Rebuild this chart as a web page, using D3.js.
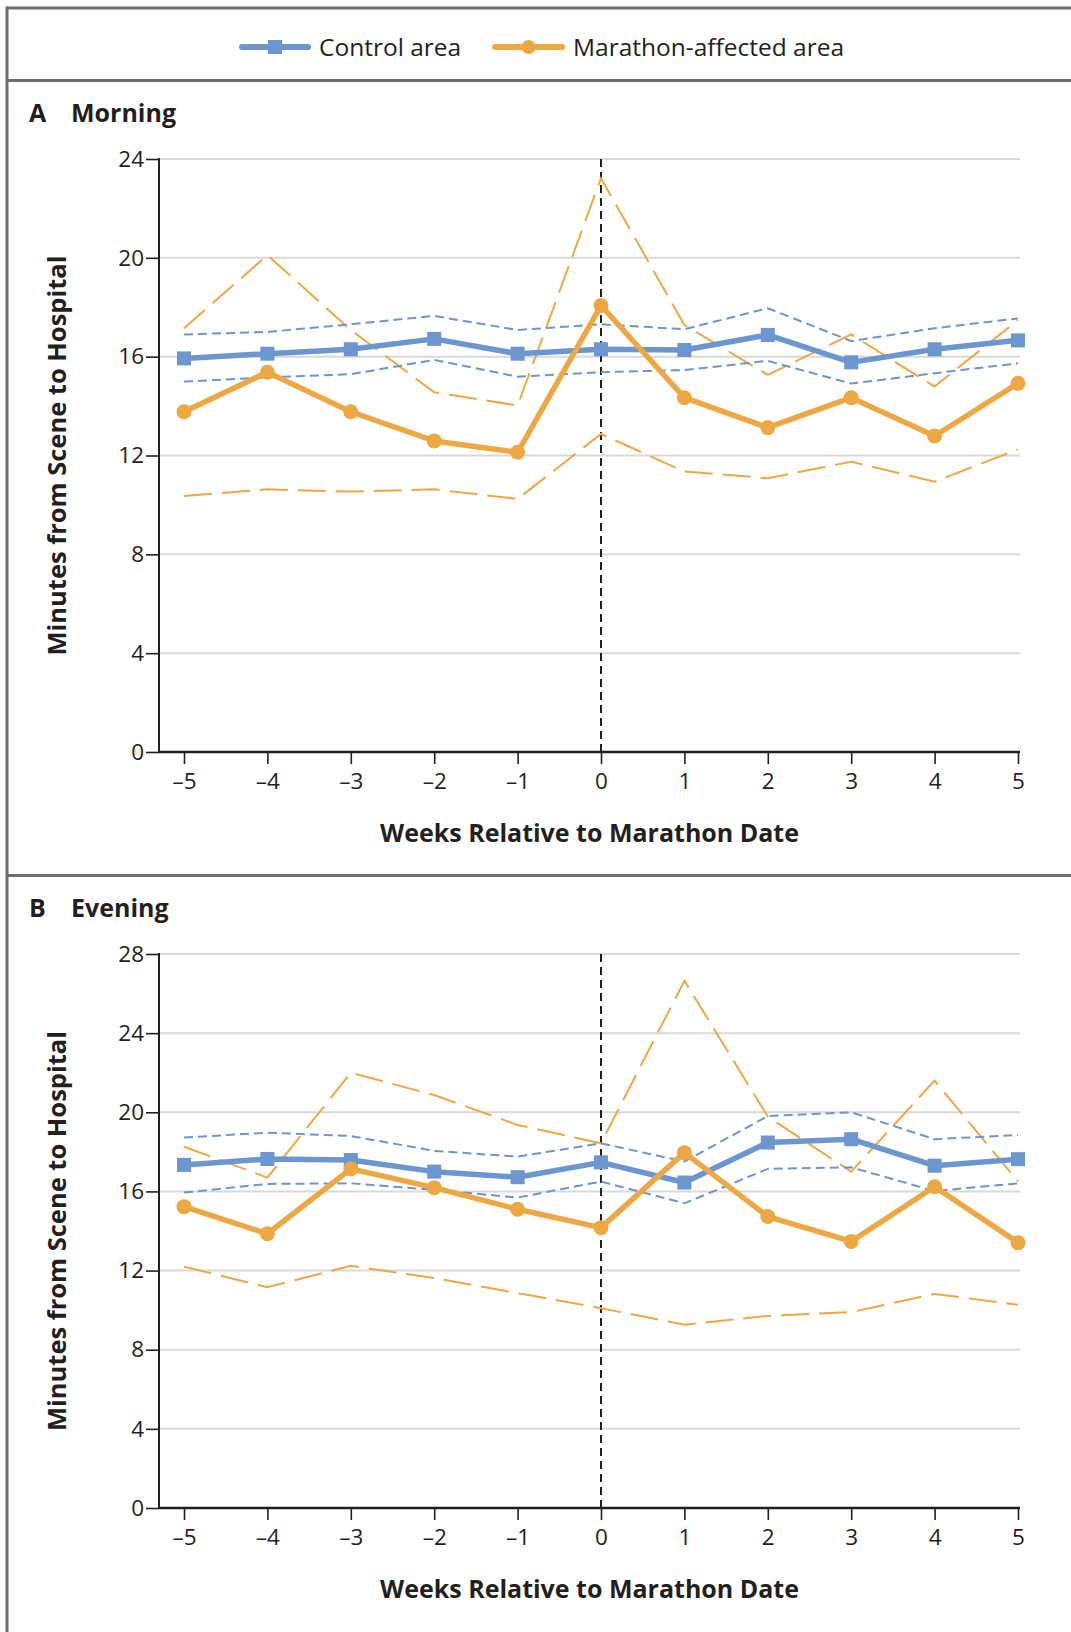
<!DOCTYPE html>
<html>
<head>
<meta charset="utf-8">
<script src="https://cdn.jsdelivr.net/npm/d3@7"></script>
<style>
  html, body { margin: 0; padding: 0; background: #fff; }
  svg { display: block; font-family: "Open Sans", "Noto Sans", sans-serif; }
</style>
</head>
<body>
<svg id="chart" width="1071" height="1632"></svg>
<script>
// ---------------- DATA ----------------
const weeks = [-5, -4, -3, -2, -1, 0, 1, 2, 3, 4, 5];
const weekLabels = ["–5", "–4", "–3", "–2", "–1", "0", "1", "2", "3", "4", "5"];

// Panel A: Morning
const morningTicks = [0, 4, 8, 12, 16, 20, 24];
const morningControl      = [15.93, 16.12, 16.30, 16.72, 16.12, 16.30, 16.27, 16.88, 15.77, 16.30, 16.66];
const morningControlHi    = [16.90, 17.00, 17.31, 17.65, 17.08, 17.31, 17.11, 17.96, 16.63, 17.15, 17.55];
const morningControlLo    = [14.99, 15.16, 15.29, 15.87, 15.19, 15.37, 15.46, 15.83, 14.91, 15.33, 15.73];
const morningMarathon     = [13.77, 15.37, 13.77, 12.59, 12.13, 18.07, 14.34, 13.13, 14.34, 12.79, 14.92];
const morningMarathonHi   = [17.15, 20.11, 17.08, 14.56, 14.02, 23.22, 17.28, 15.26, 16.90, 14.79, 17.48];
const morningMarathonLo   = [10.36, 10.63, 10.54, 10.63, 10.24, 12.87, 11.35, 11.08, 11.75, 10.94, 12.25];

// Panel B: Evening
const eveningTicks = [0, 4, 8, 12, 16, 20, 24, 28];
const eveningControl      = [17.34, 17.64, 17.59, 17.00, 16.72, 17.47, 16.45, 18.47, 18.64, 17.30, 17.63];
const eveningControlHi    = [18.72, 18.97, 18.80, 18.05, 17.76, 18.43, 17.51, 19.81, 20.00, 18.64, 18.85];
const eveningControlLo    = [15.94, 16.38, 16.41, 16.08, 15.69, 16.50, 15.40, 17.14, 17.22, 16.02, 16.41];
const eveningMarathon     = [15.23, 13.86, 17.14, 16.19, 15.10, 14.17, 17.96, 14.73, 13.47, 16.24, 13.41];
const eveningMarathonHi   = [18.26, 16.70, 22.00, 20.87, 19.36, 18.43, 26.65, 19.78, 17.00, 21.60, 16.50];
const eveningMarathonLo   = [12.20, 11.16, 12.24, 11.62, 10.86, 10.10, 9.26, 9.71, 9.90, 10.82, 10.27];

const legendLabels = ["Control area", "Marathon-affected area"];

// ---------------- STYLE ----------------
const BLUE = "#6b96cf";
const ORANGE = "#eda843";
const FRAME = "#6e6e6e";
const GRID = "#d9d9d9";
const INK = "#231f20";

const svg = d3.select("#chart");

// Frame
const frame = svg.append("g");
frame.append("line").attr("x1", 7).attr("x2", 1071).attr("y1", 8).attr("y2", 8)
  .attr("stroke", FRAME).attr("stroke-width", 3);
frame.append("line").attr("x1", 7).attr("x2", 7).attr("y1", 6.5).attr("y2", 1632)
  .attr("stroke", FRAME).attr("stroke-width", 3);
frame.append("line").attr("x1", 7).attr("x2", 1071).attr("y1", 80.5).attr("y2", 80.5)
  .attr("stroke", FRAME).attr("stroke-width", 3);
frame.append("line").attr("x1", 7).attr("x2", 1071).attr("y1", 875.5).attr("y2", 875.5)
  .attr("stroke", FRAME).attr("stroke-width", 3);

// Legend
const legend = svg.append("g");
const legItems = [
  { label: legendLabels[0], color: BLUE, shape: "square", x1: 242, x2: 308, tx: 319 },
  { label: legendLabels[1], color: ORANGE, shape: "circle", x1: 495, x2: 562, tx: 573 }
];
legItems.forEach(it => {
  const ly = 47;
  legend.append("line").attr("x1", it.x1).attr("x2", it.x2).attr("y1", ly).attr("y2", ly)
    .attr("stroke", it.color).attr("stroke-width", 6).attr("stroke-linecap", "round");
  const cx = (it.x1 + it.x2) / 2;
  if (it.shape === "square") {
    legend.append("rect").attr("x", cx - 7).attr("y", ly - 7).attr("width", 14).attr("height", 14)
      .attr("fill", it.color);
  } else {
    legend.append("circle").attr("cx", cx).attr("cy", ly).attr("r", 7).attr("fill", it.color);
  }
  legend.append("text").attr("x", it.tx).attr("y", ly).attr("dy", "0.35em")
    .attr("font-size", 24.5).attr("fill", INK).text(it.label);
});

function drawPanel(cfg) {
  const g = svg.append("g");
  const x = d3.scaleLinear().domain([-5, 5]).range([184, 1018]);
  const y = d3.scaleLinear().domain([0, cfg.yMax]).range([cfg.y0, cfg.yTop]);
  const xLeft = 159, xRight = 1020;

  // Title
  const title = g.append("text").attr("x", 29).attr("y", cfg.titleY)
    .attr("font-size", 25).attr("font-weight", 700).attr("fill", INK);
  title.append("tspan").text(cfg.letter);
  title.append("tspan").attr("x", 71).text(cfg.title);

  // Gridlines
  g.append("g").selectAll("line").data(cfg.ticks.filter(t => t > 0)).join("line")
    .attr("x1", xLeft).attr("x2", xRight)
    .attr("y1", d => y(d)).attr("y2", d => y(d))
    .attr("stroke", GRID).attr("stroke-width", 2);

  // Y axis
  const yAxis = d3.axisLeft(y).tickValues(cfg.ticks).tickSize(13).tickPadding(2).tickFormat(d3.format("d"));
  const ya = g.append("g").attr("transform", `translate(${xLeft},0)`).call(yAxis);
  ya.select(".domain").remove();
  ya.selectAll(".tick line").attr("stroke", INK).attr("stroke-width", 1.6);
  ya.selectAll(".tick text").attr("font-size", 22.5).attr("fill", INK)
    .attr("font-family", "'Open Sans', sans-serif");
  g.append("line").attr("x1", xLeft).attr("x2", xLeft).attr("y1", y(cfg.yMax) - 1).attr("y2", y(0))
    .attr("stroke", INK).attr("stroke-width", 2);

  // X axis
  const xAxis = d3.axisBottom(x).tickValues(weeks).tickSize(12).tickPadding(9)
    .tickFormat((d, i) => weekLabels[i]);
  const xa = g.append("g").attr("transform", `translate(0,${y(0)})`).call(xAxis);
  xa.select(".domain").remove();
  xa.selectAll(".tick line").attr("stroke", INK).attr("stroke-width", 1.6);
  xa.selectAll(".tick text").attr("font-size", 22.5).attr("fill", INK)
    .attr("font-family", "'Open Sans', sans-serif");
  g.append("line").attr("x1", xLeft - 1).attr("x2", xRight).attr("y1", y(0)).attr("y2", y(0))
    .attr("stroke", INK).attr("stroke-width", 2.5);

  // Vertical dashed line at week 0
  g.append("line").attr("x1", x(0)).attr("x2", x(0)).attr("y1", y(cfg.yMax)).attr("y2", y(0))
    .attr("stroke", INK).attr("stroke-width", 2).attr("stroke-dasharray", "8,5");

  // Axis titles
  g.append("text").attr("transform", `translate(57,${(y(0) + y(cfg.yMax)) / 2}) rotate(-90)`)
    .attr("text-anchor", "middle").attr("dy", "0.35em")
    .attr("font-size", 25.5).attr("font-weight", 700).attr("fill", INK)
    .text("Minutes from Scene to Hospital");
  g.append("text").attr("x", (xLeft + xRight) / 2).attr("y", y(0) + 81)
    .attr("text-anchor", "middle").attr("dy", "0.35em")
    .attr("font-size", 25).attr("font-weight", 700).attr("fill", INK)
    .text("Weeks Relative to Marathon Date");

  const line = d3.line().x((d, i) => x(weeks[i])).y(d => y(d));

  // CI lines
  [[cfg.mHi, ORANGE, "28,10", 2], [cfg.mLo, ORANGE, "28,10", 2],
   [cfg.cHi, BLUE, "9,5", 2], [cfg.cLo, BLUE, "9,5", 2]].forEach(([vals, col, dash, w]) => {
    g.append("path").attr("d", line(vals)).attr("fill", "none")
      .attr("stroke", col).attr("stroke-width", w).attr("stroke-dasharray", dash);
  });

  // Main lines
  g.append("path").attr("d", line(cfg.c)).attr("fill", "none")
    .attr("stroke", BLUE).attr("stroke-width", 5.5).attr("stroke-linejoin", "round");
  g.append("g").selectAll("rect").data(cfg.c).join("rect")
    .attr("x", (d, i) => x(weeks[i]) - 7).attr("y", d => y(d) - 7)
    .attr("width", 14).attr("height", 14).attr("fill", BLUE);

  g.append("path").attr("d", line(cfg.m)).attr("fill", "none")
    .attr("stroke", ORANGE).attr("stroke-width", 5.5).attr("stroke-linejoin", "round");
  g.append("g").selectAll("circle").data(cfg.m).join("circle")
    .attr("cx", (d, i) => x(weeks[i])).attr("cy", d => y(d)).attr("r", 7.5).attr("fill", ORANGE);
}

drawPanel({
  letter: "A", title: "Morning", titleY: 122,
  yMax: 24, ticks: morningTicks, y0: 752, yTop: 159,
  c: morningControl, cHi: morningControlHi, cLo: morningControlLo,
  m: morningMarathon, mHi: morningMarathonHi, mLo: morningMarathonLo
});

drawPanel({
  letter: "B", title: "Evening", titleY: 917,
  yMax: 28, ticks: eveningTicks, y0: 1508, yTop: 954,
  c: eveningControl, cHi: eveningControlHi, cLo: eveningControlLo,
  m: eveningMarathon, mHi: eveningMarathonHi, mLo: eveningMarathonLo
});
</script>
</body>
</html>
